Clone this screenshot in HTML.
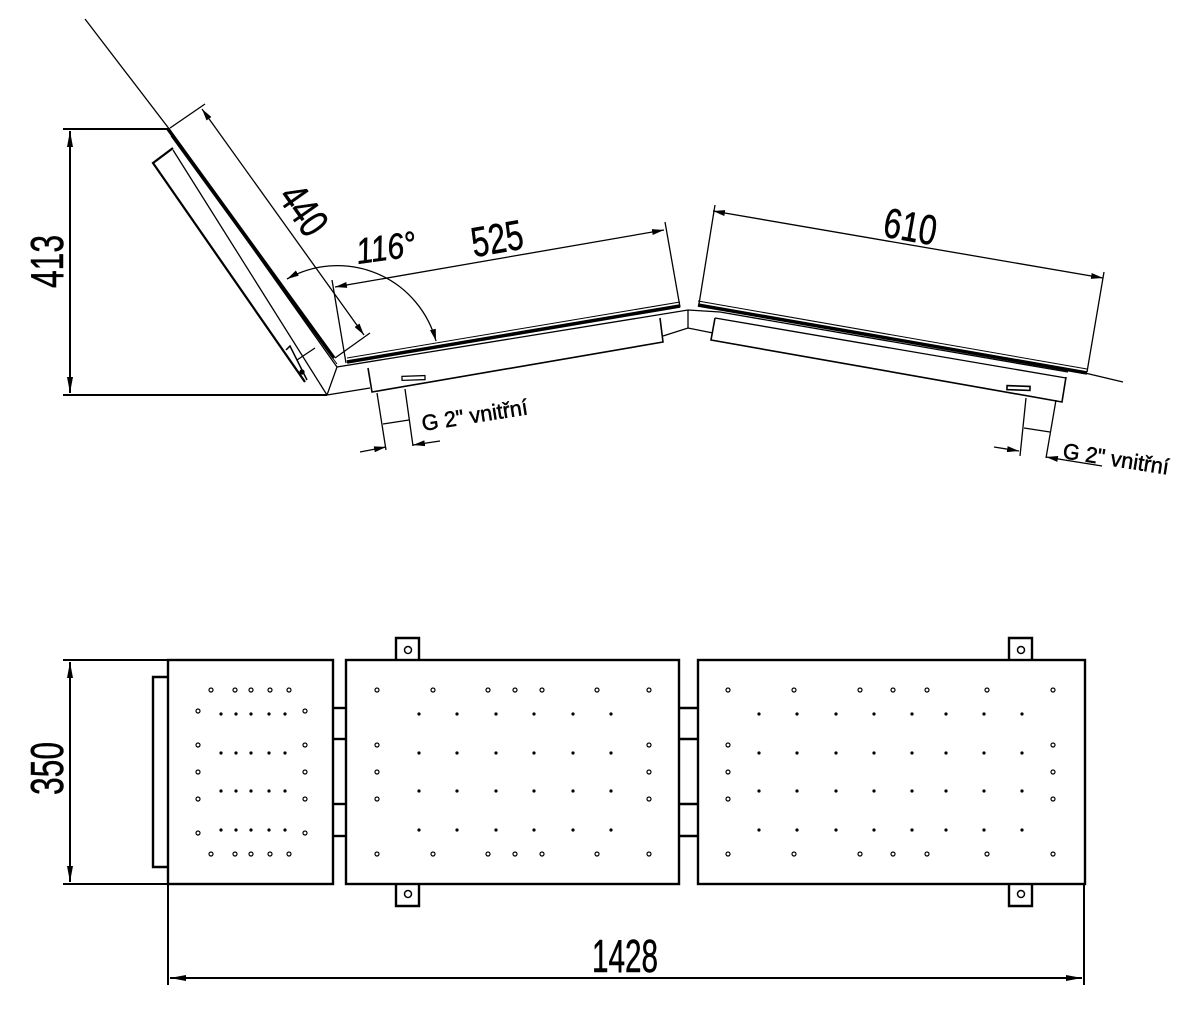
<!DOCTYPE html>
<html><head><meta charset="utf-8"><style>
html,body{margin:0;padding:0;background:#fff}
svg{display:block}
text{font-family:"Liberation Sans",sans-serif;fill:#000;stroke:#000;stroke-width:0.5}
</style></head><body>
<svg width="1188" height="1026" viewBox="0 0 1188 1026" xmlns="http://www.w3.org/2000/svg">
<defs>
<marker id="a" viewBox="0 0 12 6" refX="12" refY="3" markerWidth="12" markerHeight="6" orient="auto-start-reverse" markerUnits="userSpaceOnUse"><path d="M0,0 L12,3 L0,6 Z" fill="#000"/></marker>
<marker id="b" viewBox="0 0 16 6" refX="16" refY="3" markerWidth="16" markerHeight="6" orient="auto-start-reverse" markerUnits="userSpaceOnUse"><path d="M0,0 L16,3 L0,6 Z" fill="#000"/></marker>
<g id="fl">
<circle cx="221" cy="0" r="1.6"/><circle cx="236" cy="0" r="1.6"/><circle cx="251" cy="0" r="1.6"/><circle cx="269" cy="0" r="1.6"/><circle cx="285" cy="0" r="1.6"/>
</g>
<g id="fm">
<circle cx="419" cy="0" r="1.6"/><circle cx="457" cy="0" r="1.6"/><circle cx="496" cy="0" r="1.6"/><circle cx="534" cy="0" r="1.6"/><circle cx="573" cy="0" r="1.6"/><circle cx="611" cy="0" r="1.6"/>
</g>
<g id="fr">
<circle cx="759" cy="0" r="1.6"/><circle cx="797" cy="0" r="1.6"/><circle cx="836" cy="0" r="1.6"/><circle cx="874" cy="0" r="1.6"/><circle cx="912" cy="0" r="1.6"/><circle cx="946" cy="0" r="1.6"/><circle cx="984" cy="0" r="1.6"/><circle cx="1022" cy="0" r="1.6"/>
</g>
</defs>
<g stroke="#000" fill="none" stroke-width="1.3">
<line x1="85" y1="19" x2="170" y2="130"/>
<line x1="63" y1="129" x2="170" y2="129" stroke-width="2"/>
<line x1="63" y1="395" x2="327" y2="395" stroke-width="2"/>
<line x1="70" y1="131" x2="70" y2="393" stroke-width="2" marker-start="url(#b)" marker-end="url(#b)"/>
<line x1="168" y1="129" x2="334" y2="358" stroke-width="3.5"/>
<line x1="171" y1="136" x2="337" y2="364" stroke-width="1"/>
<line x1="176" y1="140" x2="337" y2="367"/>
<line x1="173" y1="150" x2="327" y2="395"/>
<line x1="337" y1="367" x2="327" y2="395"/>
<polyline points="173,148 153,163 305,382" stroke-width="2.2"/>
<line x1="297" y1="360" x2="315" y2="348"/>
<polyline points="286,350 290,346 307,380" stroke-width="1.5"/>
<circle cx="302" cy="372" r="2" fill="#000"/>
<line x1="347" y1="362" x2="680" y2="306" stroke-width="3.5"/>
<line x1="347" y1="358" x2="680" y2="302" stroke-width="1"/>
<polyline points="337,367 688,310 720,312 1068,372"/>
<polyline points="327,395 370,388"/>
<polyline points="663,336 688,328 713,333"/>
<line x1="688" y1="310" x2="688" y2="328"/>
<polyline points="368,368 372,392 663,342 660,318" stroke-width="1.6"/>
<rect x="402" y="376" width="23" height="4" transform="rotate(-2 413 378)"/>
<line x1="377" y1="393" x2="386" y2="450"/>
<line x1="405" y1="389" x2="413" y2="446"/>
<line x1="383" y1="424" x2="409" y2="420"/>
<line x1="360" y1="452" x2="386" y2="447" marker-end="url(#a)"/>
<line x1="440" y1="441" x2="413" y2="445" marker-end="url(#a)"/>
<line x1="698" y1="305" x2="1087" y2="373" stroke-width="3.5"/>
<line x1="698" y1="301" x2="1087" y2="369" stroke-width="1"/>
<line x1="1085" y1="373" x2="1123" y2="382"/>
<polyline points="715,318 711,340 1062,402 1066,377" stroke-width="1.6"/>
<line x1="715" y1="318" x2="1066" y2="378"/>
<rect x="1007" y="386" width="23" height="4" transform="rotate(2 1018 388)" stroke-width="1.6"/>
<line x1="1026" y1="398" x2="1020" y2="456"/>
<line x1="1056" y1="400" x2="1046" y2="458"/>
<line x1="1024" y1="428" x2="1050" y2="432"/>
<line x1="994" y1="447" x2="1019" y2="451" marker-end="url(#a)"/>
<line x1="1102" y1="466" x2="1046" y2="457" marker-end="url(#a)"/>
<line x1="170" y1="128" x2="205" y2="104"/>
<line x1="335" y1="358" x2="370" y2="333"/>
<line x1="202" y1="109" x2="364" y2="335" marker-start="url(#a)" marker-end="url(#a)"/>
<line x1="332" y1="280" x2="346" y2="363"/>
<line x1="665" y1="222" x2="680" y2="307"/>
<line x1="335" y1="287" x2="664" y2="230" marker-start="url(#a)" marker-end="url(#a)"/>
<line x1="715" y1="205" x2="699" y2="304"/>
<line x1="1104" y1="272" x2="1087" y2="372"/>
<line x1="713" y1="211" x2="1103" y2="278" marker-start="url(#a)" marker-end="url(#a)"/>
<path d="M287,279 A102,102 0 0 1 436,341" marker-start="url(#a)" marker-end="url(#a)"/>
<g stroke-width="2.4">
<rect x="168" y="660" width="165" height="224"/>
<rect x="346" y="660" width="333" height="224"/>
<rect x="698" y="660" width="387" height="224"/>
<polyline points="168,677 153,677 153,867 168,867"/>
<line x1="333" y1="708" x2="346" y2="708"/><line x1="333" y1="739" x2="346" y2="739"/>
<line x1="333" y1="804" x2="346" y2="804"/><line x1="333" y1="836" x2="346" y2="836"/>
<line x1="679" y1="708" x2="698" y2="708"/><line x1="679" y1="739" x2="698" y2="739"/>
<line x1="679" y1="804" x2="698" y2="804"/><line x1="679" y1="836" x2="698" y2="836"/>
<polyline points="396,660 396,638 419,638 419,660"/>
<polyline points="396,884 396,906 419,906 419,884"/>
<polyline points="1009,660 1009,638 1032,638 1032,660"/>
<polyline points="1009,884 1009,906 1032,906 1032,884"/>
</g>
<g stroke-width="1.5">
<circle cx="408" cy="650" r="3.5"/><circle cx="408" cy="894" r="3.5"/>
<circle cx="1021" cy="650" r="3.5"/><circle cx="1021" cy="894" r="3.5"/>
</g>
<line x1="63" y1="660" x2="168" y2="660" stroke-width="2"/>
<line x1="63" y1="884" x2="168" y2="884" stroke-width="2"/>
<line x1="70" y1="662" x2="70" y2="882" stroke-width="2" marker-start="url(#b)" marker-end="url(#b)"/>
<line x1="168" y1="884" x2="168" y2="985" stroke-width="2"/>
<line x1="1084" y1="884" x2="1084" y2="985" stroke-width="2"/>
<line x1="170" y1="978" x2="1082" y2="978" stroke-width="2" marker-start="url(#b)" marker-end="url(#b)"/>
</g>
<text x="423" y="431" font-size="22" textLength="107" lengthAdjust="spacingAndGlyphs" transform="rotate(-9 423 431)">G 2" vnitřní</text>
<text x="1062" y="458" font-size="22" textLength="107" lengthAdjust="spacingAndGlyphs" transform="rotate(9 1062 458)">G 2" vnitřní</text>
<text x="277" y="223" font-size="42" textLength="52" lengthAdjust="spacingAndGlyphs" transform="rotate(55 302 210)">440</text>
<text x="471" y="253" font-size="42" textLength="52" lengthAdjust="spacingAndGlyphs" transform="rotate(-10 497 238)">525</text>
<text x="884" y="241" font-size="42" textLength="53" lengthAdjust="spacingAndGlyphs" transform="rotate(10 910 226)">610</text>
<text x="356" y="260" font-size="36" font-style="italic" textLength="60" lengthAdjust="spacingAndGlyphs" transform="rotate(-8 386 248)">116°</text>
<text x="22" y="277" font-size="46" textLength="53" lengthAdjust="spacingAndGlyphs" transform="rotate(-90 48 262)">413</text>
<text x="22" y="784" font-size="46" textLength="53" lengthAdjust="spacingAndGlyphs" transform="rotate(-90 48 769)">350</text>
<text x="592" y="972" font-size="46" textLength="66" lengthAdjust="spacingAndGlyphs">1428</text>
<g stroke="#000" stroke-width="1.2" fill="none">
<circle cx="211" cy="690" r="2"/><circle cx="235" cy="690" r="2"/><circle cx="251" cy="690" r="2"/><circle cx="270" cy="690" r="2"/><circle cx="289" cy="690" r="2"/>
<circle cx="211" cy="854" r="2"/><circle cx="235" cy="854" r="2"/><circle cx="251" cy="854" r="2"/><circle cx="270" cy="854" r="2"/><circle cx="289" cy="854" r="2"/>
<circle cx="198" cy="711" r="2"/><circle cx="198" cy="745" r="2"/><circle cx="198" cy="772" r="2"/><circle cx="198" cy="799" r="2"/><circle cx="198" cy="833" r="2"/>
<circle cx="305" cy="711" r="2"/><circle cx="305" cy="745" r="2"/><circle cx="305" cy="772" r="2"/><circle cx="305" cy="799" r="2"/><circle cx="305" cy="833" r="2"/>
<circle cx="377" cy="690" r="2"/><circle cx="433" cy="690" r="2"/><circle cx="488" cy="690" r="2"/><circle cx="515" cy="690" r="2"/><circle cx="542" cy="690" r="2"/><circle cx="597" cy="690" r="2"/><circle cx="649" cy="690" r="2"/>
<circle cx="377" cy="854" r="2"/><circle cx="433" cy="854" r="2"/><circle cx="488" cy="854" r="2"/><circle cx="515" cy="854" r="2"/><circle cx="542" cy="854" r="2"/><circle cx="597" cy="854" r="2"/><circle cx="649" cy="854" r="2"/>
<circle cx="377" cy="745" r="2"/><circle cx="377" cy="772" r="2"/><circle cx="377" cy="799" r="2"/>
<circle cx="649" cy="745" r="2"/><circle cx="649" cy="772" r="2"/><circle cx="649" cy="799" r="2"/>
<circle cx="728" cy="690" r="2"/><circle cx="794" cy="690" r="2"/><circle cx="860" cy="690" r="2"/><circle cx="893" cy="690" r="2"/><circle cx="927" cy="690" r="2"/><circle cx="987" cy="690" r="2"/><circle cx="1053" cy="690" r="2"/>
<circle cx="728" cy="854" r="2"/><circle cx="794" cy="854" r="2"/><circle cx="860" cy="854" r="2"/><circle cx="893" cy="854" r="2"/><circle cx="927" cy="854" r="2"/><circle cx="987" cy="854" r="2"/><circle cx="1053" cy="854" r="2"/>
<circle cx="728" cy="745" r="2"/><circle cx="728" cy="772" r="2"/><circle cx="728" cy="799" r="2"/>
<circle cx="1053" cy="745" r="2"/><circle cx="1053" cy="772" r="2"/><circle cx="1053" cy="799" r="2"/>
</g>
<g fill="#000">
<use href="#fl" y="714"/><use href="#fl" y="753"/><use href="#fl" y="791"/><use href="#fl" y="830"/>
<use href="#fm" y="714"/><use href="#fm" y="753"/><use href="#fm" y="791"/><use href="#fm" y="830"/>
<use href="#fr" y="714"/><use href="#fr" y="753"/><use href="#fr" y="791"/><use href="#fr" y="830"/>
</g>
</svg>
</body></html>
